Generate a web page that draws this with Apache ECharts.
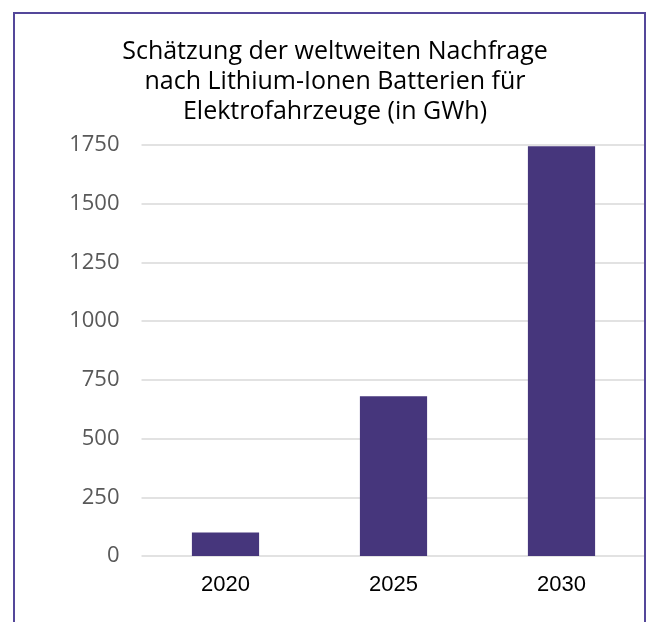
<!DOCTYPE html>
<html>
<head>
<meta charset="utf-8">
<script src="https://cdn.jsdelivr.net/npm/echarts@6/dist/echarts.min.js"></script>
<style>
  html, body { margin: 0; padding: 0; background: #fff; }
  #chart { width: 649px; height: 622px; position: relative; }
  #frame {
    position: absolute; left: 13px; top: 12px; width: 633px; height: 640px;
    border: 2px solid #54479a; box-sizing: border-box; pointer-events: none;
  }
</style>
</head>
<body>
<div id="chart"></div>
<div id="frame"></div>
<script>
var titleText = 'Schätzung der weltweiten Nachfrage\nnach Lithium-Ionen Batterien für\nElektrofahrzeuge (in GWh)';
var years = ['2020', '2025', '2030'];
var demand = [100, 680, 1745];

var chart = echarts.init(document.getElementById('chart'));

var option = {
    animation: false,
    title: {
        text: titleText,
        left: 330,
        textAlign: 'center',
        top: 32,
        textStyle: {
            fontFamily: 'Open Sans',
            fontSize: 25,
            fontWeight: 'normal',
            color: '#000',
            lineHeight: 30
        }
    },
    grid: {
        left: 141.5,
        right: 3.5,
        top: 145,
        bottom: 66
    },
    xAxis: {
        type: 'category',
        data: years,
        axisLine: { show: false },
        axisTick: { show: false },
        axisLabel: {
            fontFamily: 'Liberation Sans',
            fontSize: 22,
            color: '#000',
            margin: 18
        }
    },
    yAxis: {
        type: 'value',
        min: 0,
        max: 1750,
        interval: 250,
        axisLine: { show: false },
        axisTick: { show: false },
        axisLabel: {
            fontFamily: 'Open Sans',
            fontSize: 22,
            color: '#595959',
            margin: 22,
            formatter: function (v) { return String(v); }
        },
        splitLine: {
            lineStyle: { color: '#d9d9d9', width: 1.5 }
        }
    },
    series: [
        {
            type: 'bar',
            data: demand,
            barWidth: '40%',
            itemStyle: { color: '#46367c' }
        }
    ]
};

chart.setOption(option);
</script>
</body>
</html>
